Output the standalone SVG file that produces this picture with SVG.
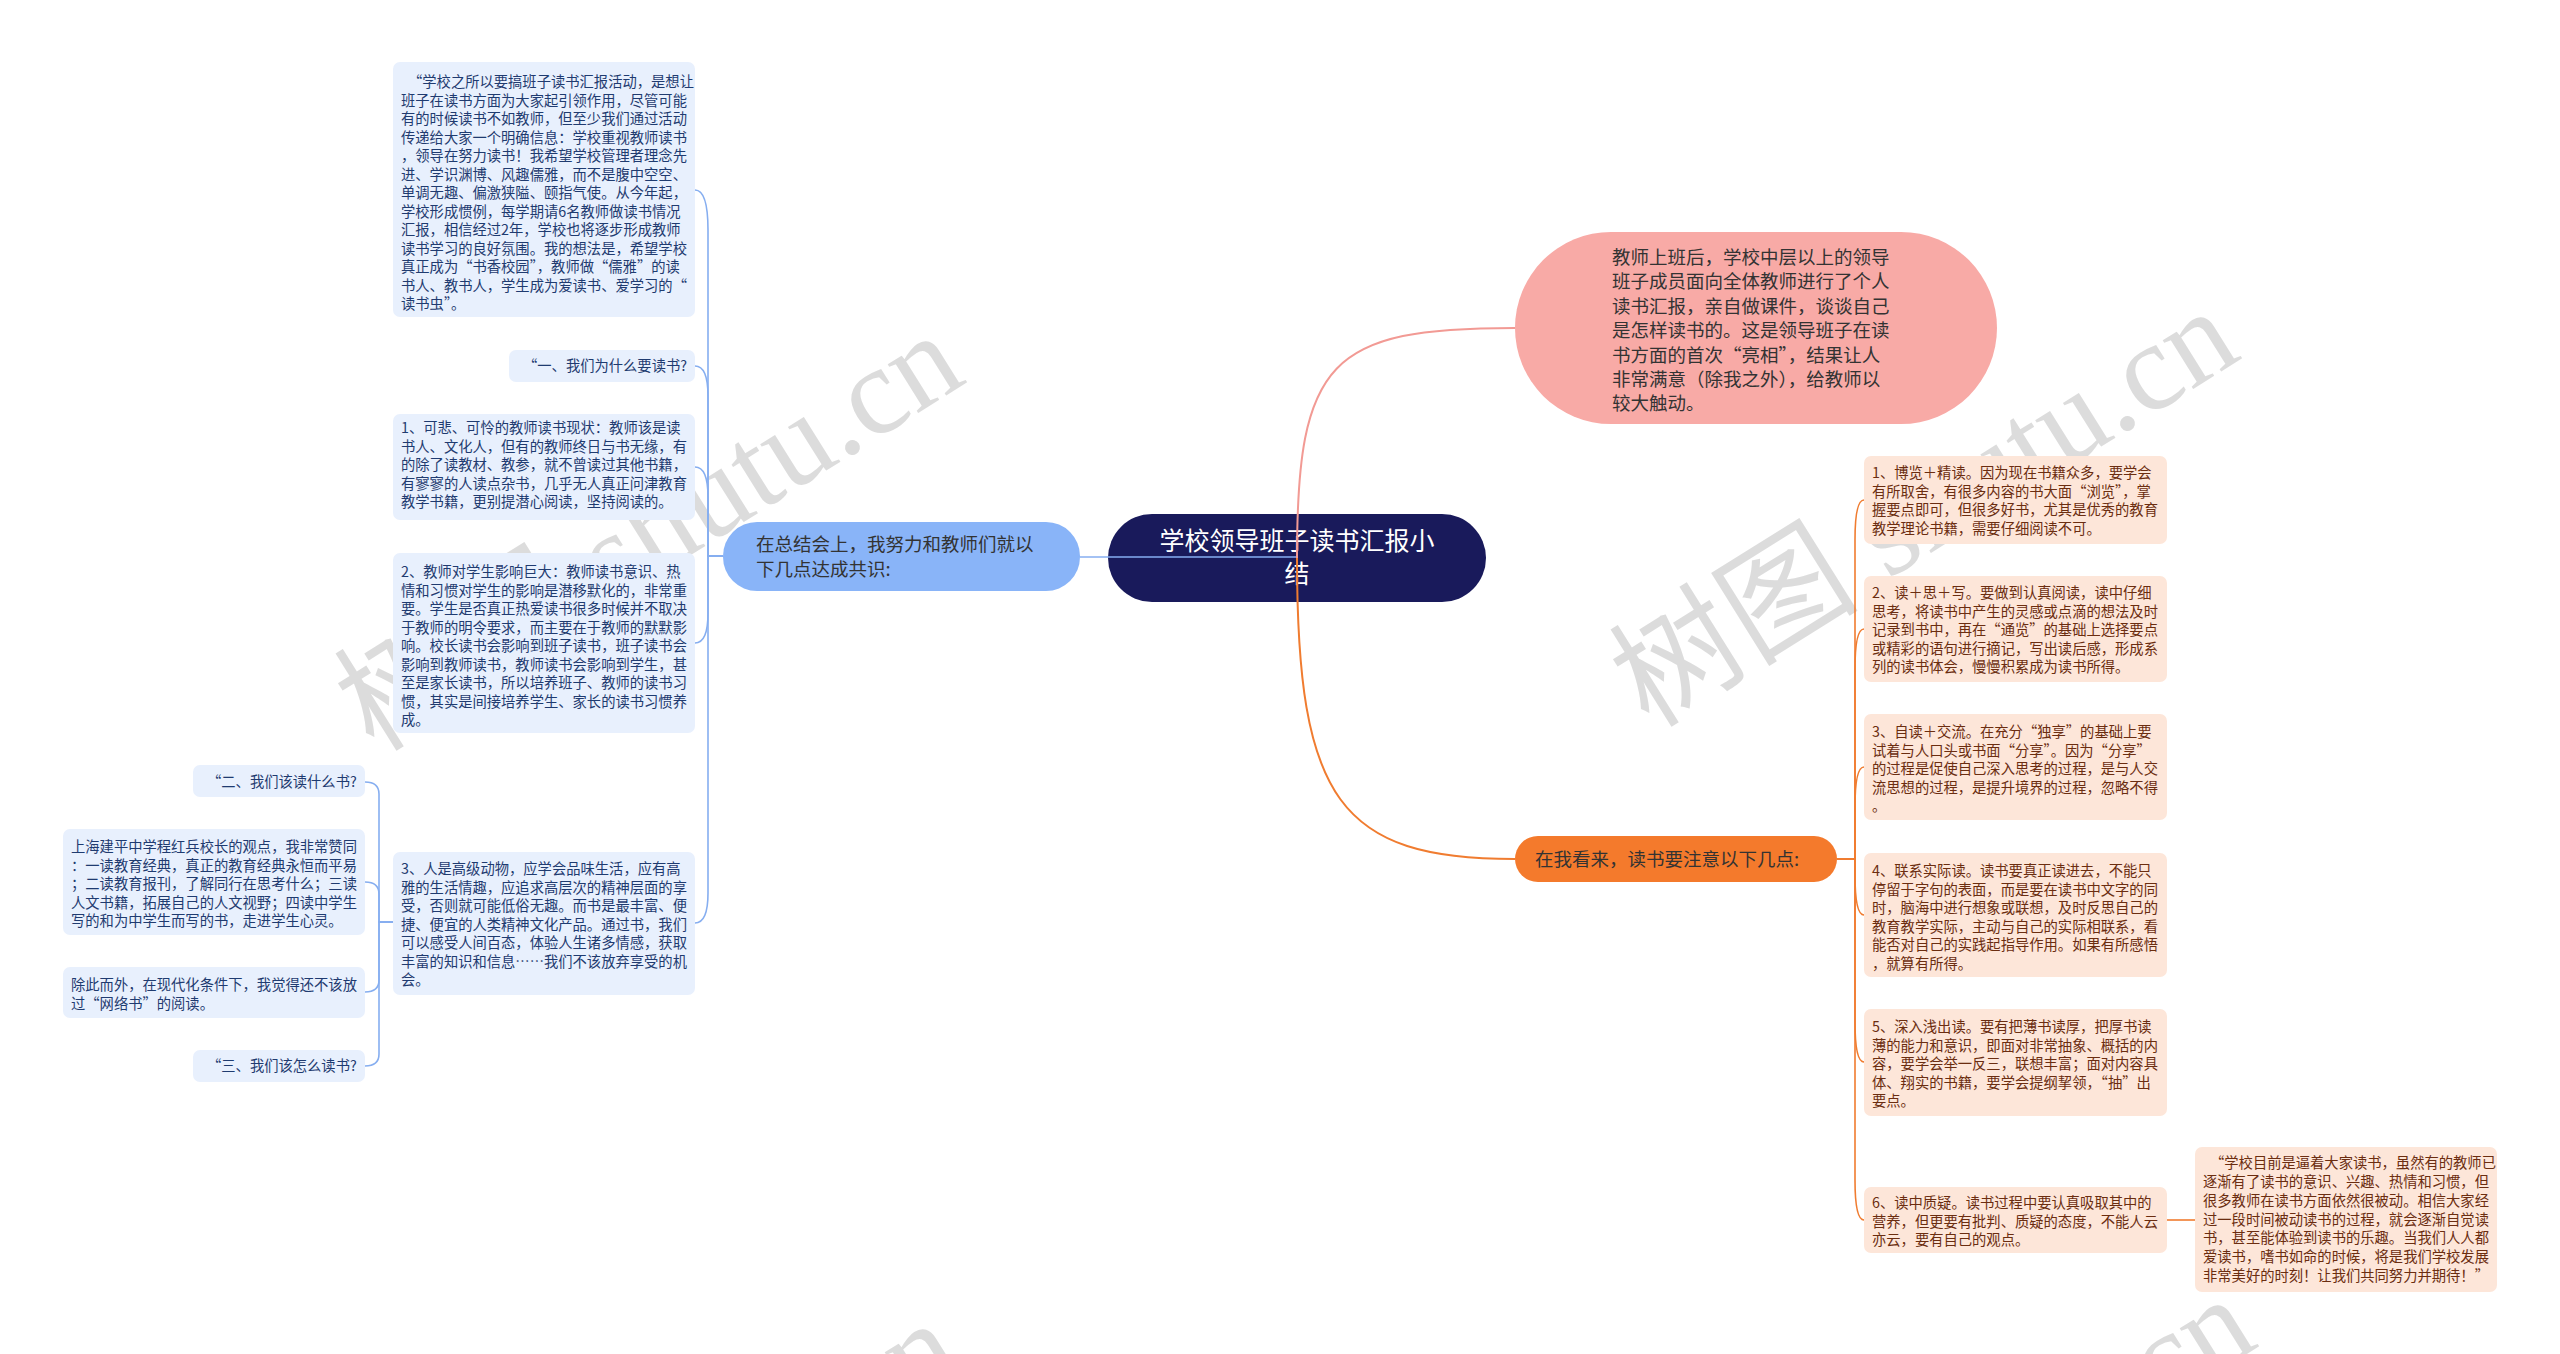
<svg xmlns="http://www.w3.org/2000/svg" width="2560" height="1354" viewBox="0 0 2560 1354">
<style>
.t { font-family: "Noto Sans CJK SC", "Noto Sans", sans-serif; }
.lt { font-size: 14.3px; fill: #1f3b70; }
.rt { font-size: 14.3px; fill: #6b2d10; }
.lbox { fill: #e8f0fd; }
.rbox { fill: #fde6d9; }
.big { font-size: 18.5px; fill: #333333; }
.cb { fill: none; stroke: #86aef0; stroke-width: 1.6; }
.co { fill: none; stroke: #f07c30; stroke-width: 1.6; }
.wm { font-family: "Liberation Serif", "Noto Sans CJK SC", serif; font-size: 125px; fill: #c0c0c0; opacity: 0.55; }
</style>
<rect x="0" y="0" width="2560" height="1354" fill="#ffffff"/>

<g id="watermarks">
<text class="wm" x="648" y="574" text-anchor="middle" transform="rotate(-32 648 530)">树图 shutu.cn</text>
<text class="wm" x="1923" y="550" text-anchor="middle" transform="rotate(-32 1923 506)">树图 shutu.cn</text>
<text class="wm" x="645" y="1562" text-anchor="middle" transform="rotate(-32 645 1518)">树图 shutu.cn</text>
<text class="wm" x="1940" y="1538" text-anchor="middle" transform="rotate(-32 1940 1494)">树图 shutu.cn</text>
</g>

<g id="root">
<rect x="1108" y="514" width="378" height="88" rx="44" fill="#191a5b"/>
<text class="t" x="1297" y="550" text-anchor="middle" font-size="25" fill="#ffffff">学校领导班子读书汇报小</text>
<text class="t" x="1297" y="583" text-anchor="middle" font-size="25" fill="#ffffff">结</text>
</g>

<g id="connectors">
<path class="cb" stroke-width="3" d="M1297 557 H1080"/>
<path fill="none" stroke="#f29a94" stroke-width="2" d="M1297 558 C1297 360 1330 328 1515 328"/>
<path fill="none" stroke="#f07c30" stroke-width="2" d="M1297 558 C1297 800 1340 859 1515 859"/>
<path class="cb" d="M723 556 H708 V230 Q708 190 695 190"/>
<path class="cb" d="M723 556 H708 V396 Q708 366 695 366"/>
<path class="cb" d="M723 556 H708 V497 Q708 467 695 467"/>
<path class="cb" d="M723 556 H708 V613 Q708 643 695 643"/>
<path class="cb" d="M723 556 H708 V893 Q708 923 695 923"/>
<path class="cb" d="M393 922 H379 V794 Q379 782 365 782"/>
<path class="cb" d="M393 922 H379 V894 Q379 882 365 882"/>
<path class="cb" d="M393 922 H379 V980 Q379 992 365 992"/>
<path class="cb" d="M393 922 H379 V1054 Q379 1066 365 1066"/>
<path class="co" d="M1837 859 H1855 V540 Q1855 500 1864 500"/>
<path class="co" d="M1837 859 H1855 V669 Q1855 629 1864 629"/>
<path class="co" d="M1837 859 H1855 V807 Q1855 767 1864 767"/>
<path class="co" d="M1837 859 H1855 V875 Q1855 915 1864 915"/>
<path class="co" d="M1837 859 H1855 V1022 Q1855 1062 1864 1062"/>
<path class="co" d="M1837 859 H1855 V1180 Q1855 1220 1864 1220"/>
<path class="co" d="M2167 1220 H2195"/>
</g>

<g id="n-left">
<rect x="723" y="522" width="357" height="69" rx="34" fill="#89b4f8"/>
<text class="t big" x="756" y="551">在总结会上，我努力和教师们就以</text>
<text class="t big" x="756" y="576">下几点达成共识:</text>
</g>

<g id="n-pink">
<rect x="1515" y="232" width="482" height="192" rx="96" fill="#f8aaa6"/>
<text class="t big" y="264">
<tspan x="1612">教师上班后，学校中层以上的领导</tspan>
<tspan x="1612" dy="24.4">班子成员面向全体教师进行了个人</tspan>
<tspan x="1612" dy="24.4">读书汇报，亲自做课件，谈谈自己</tspan>
<tspan x="1612" dy="24.4">是怎样读书的。这是领导班子在读</tspan>
<tspan x="1612" dy="24.4">书方面的首次“亮相”，结果让人</tspan>
<tspan x="1612" dy="24.4">非常满意（除我之外），给教师以</tspan>
<tspan x="1612" dy="24.4">较大触动。</tspan>
</text>
</g>

<g id="n-orange">
<rect x="1515" y="836" width="322" height="46" rx="23" fill="#f47a2c"/>
<text class="t big" x="1535" y="866">在我看来，读书要注意以下几点:</text>
</g>

<g id="n-l0">
<rect class="lbox" x="393" y="62" width="302" height="255" rx="7"/>
<text class="t lt" y="87.4">
<tspan x="408">“学校之所以要搞班子读书汇报活动，是想让</tspan>
<tspan x="401" dy="18.5">班子在读书方面为大家起引领作用，尽管可能</tspan>
<tspan x="401" dy="18.5">有的时候读书不如教师，但至少我们通过活动</tspan>
<tspan x="401" dy="18.5">传递给大家一个明确信息：学校重视教师读书</tspan>
<tspan x="401" dy="18.5">，领导在努力读书！我希望学校管理者理念先</tspan>
<tspan x="401" dy="18.5">进、学识渊博、风趣儒雅，而不是腹中空空、</tspan>
<tspan x="401" dy="18.5">单调无趣、偏激狭隘、颐指气使。从今年起，</tspan>
<tspan x="401" dy="18.5">学校形成惯例，每学期请6名教师做读书情况</tspan>
<tspan x="401" dy="18.5">汇报，相信经过2年，学校也将逐步形成教师</tspan>
<tspan x="401" dy="18.5">读书学习的良好氛围。我的想法是，希望学校</tspan>
<tspan x="401" dy="18.5">真正成为“书香校园”，教师做“儒雅”的读</tspan>
<tspan x="401" dy="18.5">书人、教书人，学生成为爱读书、爱学习的“</tspan>
<tspan x="401" dy="18.5">读书虫”。</tspan>
</text>
</g>

<g id="n-q1">
<rect class="lbox" x="509" y="350" width="186" height="32" rx="7"/>
<text class="t lt" x="523" y="371.4">“一、我们为什么要读书?</text>
</g>

<g id="n-l1">
<rect class="lbox" x="393" y="414" width="302" height="106" rx="7"/>
<text class="t lt" y="433.4">
<tspan x="401">1、可悲、可怜的教师读书现状：教师该是读</tspan>
<tspan x="401" dy="18.5">书人、文化人，但有的教师终日与书无缘，有</tspan>
<tspan x="401" dy="18.5">的除了读教材、教参，就不曾读过其他书籍，</tspan>
<tspan x="401" dy="18.5">有寥寥的人读点杂书，几乎无人真正问津教育</tspan>
<tspan x="401" dy="18.5">教学书籍，更别提潜心阅读，坚持阅读的。</tspan>
</text>
</g>

<g id="n-l2">
<rect class="lbox" x="393" y="553" width="302" height="180" rx="7"/>
<text class="t lt" y="577.4">
<tspan x="401">2、教师对学生影响巨大：教师读书意识、热</tspan>
<tspan x="401" dy="18.5">情和习惯对学生的影响是潜移默化的，非常重</tspan>
<tspan x="401" dy="18.5">要。学生是否真正热爱读书很多时候并不取决</tspan>
<tspan x="401" dy="18.5">于教师的明令要求，而主要在于教师的默默影</tspan>
<tspan x="401" dy="18.5">响。校长读书会影响到班子读书，班子读书会</tspan>
<tspan x="401" dy="18.5">影响到教师读书，教师读书会影响到学生，甚</tspan>
<tspan x="401" dy="18.5">至是家长读书，所以培养班子、教师的读书习</tspan>
<tspan x="401" dy="18.5">惯，其实是间接培养学生、家长的读书习惯养</tspan>
<tspan x="401" dy="18.5">成。</tspan>
</text>
</g>

<g id="n-l3">
<rect class="lbox" x="393" y="852" width="302" height="143" rx="7"/>
<text class="t lt" y="874.4">
<tspan x="401">3、人是高级动物，应学会品味生活，应有高</tspan>
<tspan x="401" dy="18.5">雅的生活情趣，应追求高层次的精神层面的享</tspan>
<tspan x="401" dy="18.5">受，否则就可能低俗无趣。而书是最丰富、便</tspan>
<tspan x="401" dy="18.5">捷、便宜的人类精神文化产品。通过书，我们</tspan>
<tspan x="401" dy="18.5">可以感受人间百态，体验人生诸多情感，获取</tspan>
<tspan x="401" dy="18.5">丰富的知识和信息……我们不该放弃享受的机</tspan>
<tspan x="401" dy="18.5">会。</tspan>
</text>
</g>

<g id="n-q2">
<rect class="lbox" x="193" y="765" width="172" height="32" rx="7"/>
<text class="t lt" x="207" y="787.4">“二、我们该读什么书?</text>
</g>

<g id="n-l4">
<rect class="lbox" x="63" y="829" width="302" height="106" rx="7"/>
<text class="t lt" y="852.4">
<tspan x="71">上海建平中学程红兵校长的观点，我非常赞同</tspan>
<tspan x="71" dy="18.5">：一读教育经典，真正的教育经典永恒而平易</tspan>
<tspan x="71" dy="18.5">；二读教育报刊，了解同行在思考什么；三读</tspan>
<tspan x="71" dy="18.5">人文书籍，拓展自己的人文视野；四读中学生</tspan>
<tspan x="71" dy="18.5">写的和为中学生而写的书，走进学生心灵。</tspan>
</text>
</g>

<g id="n-l5">
<rect class="lbox" x="63" y="967" width="302" height="51" rx="7"/>
<text class="t lt" y="990.4">
<tspan x="71">除此而外，在现代化条件下，我觉得还不该放</tspan>
<tspan x="71" dy="18.5">过“网络书”的阅读。</tspan>
</text>
</g>

<g id="n-q3">
<rect class="lbox" x="193" y="1050" width="172" height="32" rx="7"/>
<text class="t lt" x="207" y="1071.4">“三、我们该怎么读书?</text>
</g>

<g id="n-r1">
<rect class="rbox" x="1864" y="456" width="303" height="88" rx="7"/>
<text class="t rt" y="478.4">
<tspan x="1872">1、博览＋精读。因为现在书籍众多，要学会</tspan>
<tspan x="1872" dy="18.5">有所取舍，有很多内容的书大面“浏览”，掌</tspan>
<tspan x="1872" dy="18.5">握要点即可，但很多好书，尤其是优秀的教育</tspan>
<tspan x="1872" dy="18.5">教学理论书籍，需要仔细阅读不可。</tspan>
</text>
</g>

<g id="n-r2">
<rect class="rbox" x="1864" y="576" width="303" height="106" rx="7"/>
<text class="t rt" y="598.4">
<tspan x="1872">2、读＋思＋写。要做到认真阅读，读中仔细</tspan>
<tspan x="1872" dy="18.5">思考，将读书中产生的灵感或点滴的想法及时</tspan>
<tspan x="1872" dy="18.5">记录到书中，再在“通览”的基础上选择要点</tspan>
<tspan x="1872" dy="18.5">或精彩的语句进行摘记，写出读后感，形成系</tspan>
<tspan x="1872" dy="18.5">列的读书体会，慢慢积累成为读书所得。</tspan>
</text>
</g>

<g id="n-r3">
<rect class="rbox" x="1864" y="714" width="303" height="106" rx="7"/>
<text class="t rt" y="737.4">
<tspan x="1872">3、自读＋交流。在充分“独享”的基础上要</tspan>
<tspan x="1872" dy="18.5">试着与人口头或书面“分享”。因为“分享”</tspan>
<tspan x="1872" dy="18.5">的过程是促使自己深入思考的过程，是与人交</tspan>
<tspan x="1872" dy="18.5">流思想的过程，是提升境界的过程，忽略不得</tspan>
<tspan x="1872" dy="18.5">。</tspan>
</text>
</g>

<g id="n-r4">
<rect class="rbox" x="1864" y="853" width="303" height="124" rx="7"/>
<text class="t rt" y="876.4">
<tspan x="1872">4、联系实际读。读书要真正读进去，不能只</tspan>
<tspan x="1872" dy="18.5">停留于字句的表面，而是要在读书中文字的同</tspan>
<tspan x="1872" dy="18.5">时，脑海中进行想象或联想，及时反思自己的</tspan>
<tspan x="1872" dy="18.5">教育教学实际，主动与自己的实际相联系，看</tspan>
<tspan x="1872" dy="18.5">能否对自己的实践起指导作用。如果有所感悟</tspan>
<tspan x="1872" dy="18.5">，就算有所得。</tspan>
</text>
</g>

<g id="n-r5">
<rect class="rbox" x="1864" y="1009" width="303" height="107" rx="7"/>
<text class="t rt" y="1032.4">
<tspan x="1872">5、深入浅出读。要有把薄书读厚，把厚书读</tspan>
<tspan x="1872" dy="18.5">薄的能力和意识，即面对非常抽象、概括的内</tspan>
<tspan x="1872" dy="18.5">容，要学会举一反三，联想丰富；面对内容具</tspan>
<tspan x="1872" dy="18.5">体、翔实的书籍，要学会提纲挈领，“抽”出</tspan>
<tspan x="1872" dy="18.5">要点。</tspan>
</text>
</g>

<g id="n-r6">
<rect class="rbox" x="1864" y="1187" width="303" height="66" rx="7"/>
<text class="t rt" y="1208.4">
<tspan x="1872">6、读中质疑。读书过程中要认真吸取其中的</tspan>
<tspan x="1872" dy="18.5">营养，但更要有批判、质疑的态度，不能人云</tspan>
<tspan x="1872" dy="18.5">亦云，要有自己的观点。</tspan>
</text>
</g>

<g id="n-r7">
<rect class="rbox" x="2195" y="1147" width="302" height="145" rx="7"/>
<text class="t rt" y="1168.4">
<tspan x="2210">“学校目前是逼着大家读书，虽然有的教师已</tspan>
<tspan x="2203" dy="18.7">逐渐有了读书的意识、兴趣、热情和习惯，但</tspan>
<tspan x="2203" dy="18.7">很多教师在读书方面依然很被动。相信大家经</tspan>
<tspan x="2203" dy="18.7">过一段时间被动读书的过程，就会逐渐自觉读</tspan>
<tspan x="2203" dy="18.7">书，甚至能体验到读书的乐趣。当我们人人都</tspan>
<tspan x="2203" dy="18.7">爱读书，嗜书如命的时候，将是我们学校发展</tspan>
<tspan x="2203" dy="18.7">非常美好的时刻！让我们共同努力并期待！”</tspan>
</text>
</g>
</svg>
